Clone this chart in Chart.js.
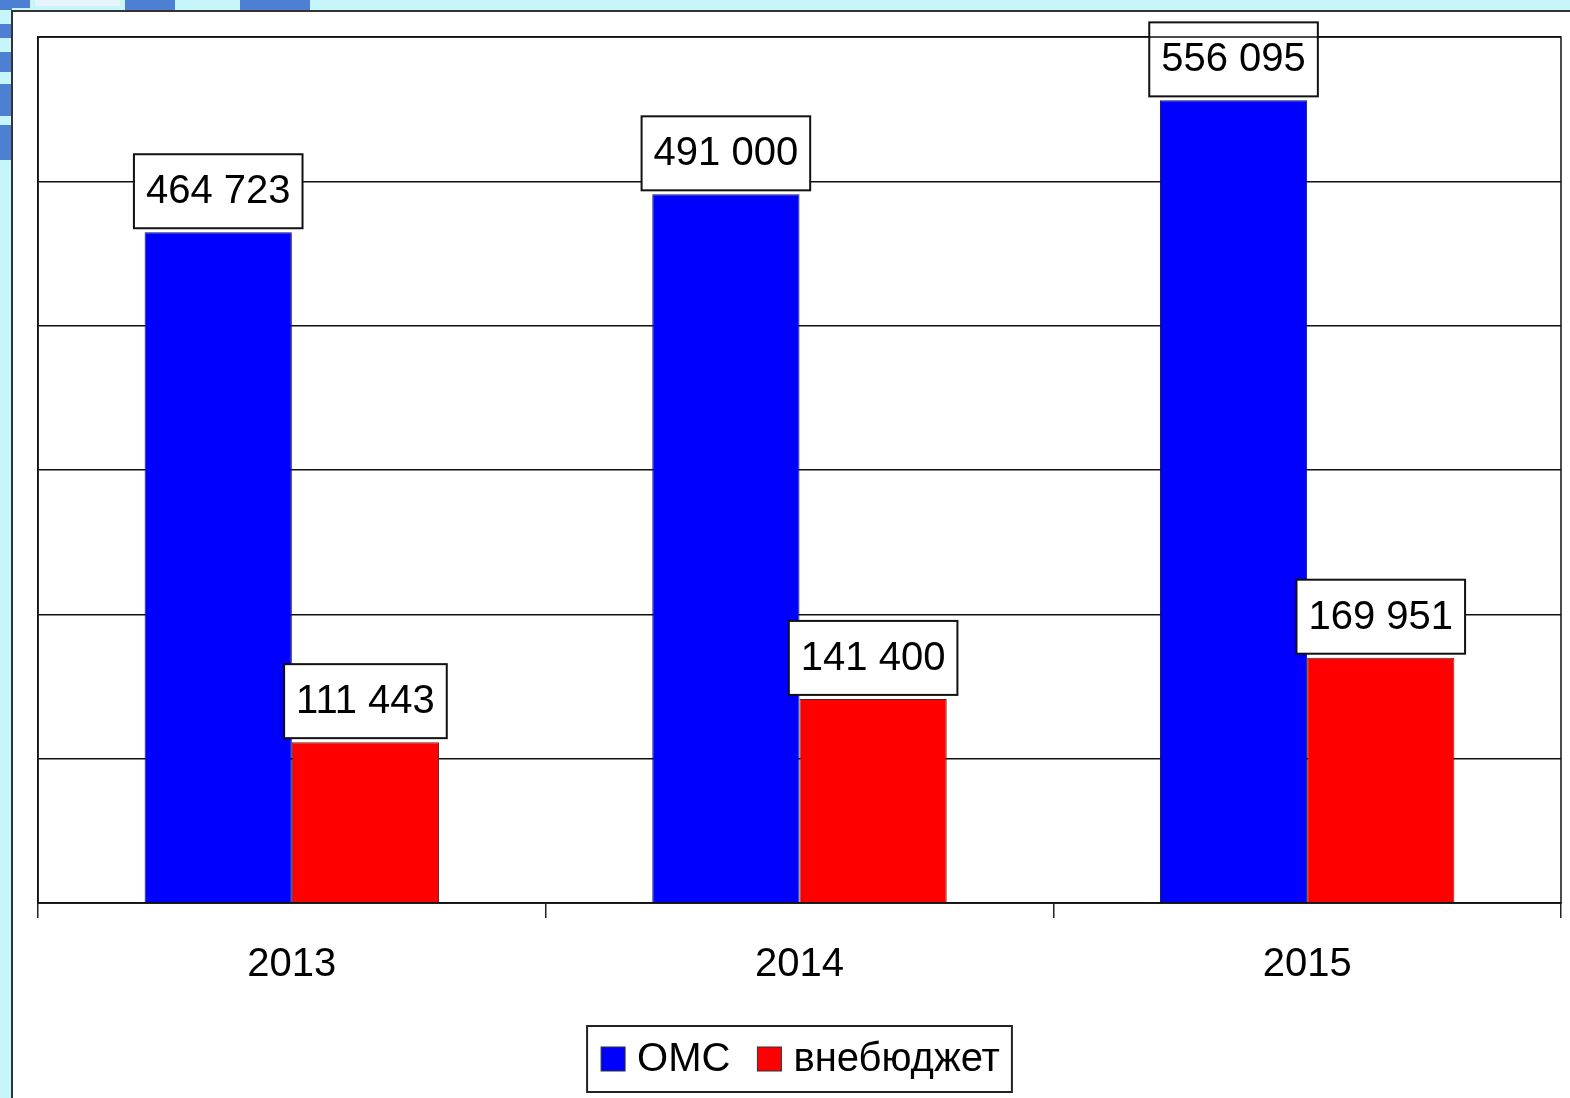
<!DOCTYPE html>
<html>
<head>
<meta charset="utf-8">
<script src="https://cdn.jsdelivr.net/npm/chart.js@4/dist/chart.umd.min.js"></script>
<style>
  html, body { margin: 0; padding: 0; background: #c6f5fa; }
  #wrap { width: 1570px; height: 1098px; position: relative; }
</style>
</head>
<body>
<div id="wrap"><canvas id="chart" width="1570" height="1098"></canvas></div>
<script>
// ==================== DATA ====================
const years = ["2013", "2014", "2015"];
const omsValues = [464723, 491000, 556095];
const extraValues = [111443, 141400, 169951];
const seriesNames = ["ОМС", "внебюджет"];
const yMax = 600000;
const yStep = 100000;

const FONT = "'Liberation Sans', Arial, sans-serif";

function fmt(n) {
  return String(n).replace(/\B(?=(\d{3})+(?!\d))/g, " ");
}

// ==================== PLUGINS ====================
const framePlugin = {
  id: "frame",
  beforeDraw(chart) {
    const c = chart.ctx;
    c.save();
    c.fillStyle = "#c6f5fa";
    c.fillRect(0, 0, chart.width, chart.height);
    // bits of the slide logo peeking out behind the chart
    c.fillStyle = "#4d80d2";
    [[0, 0, 12, 10], [0, 24, 12, 14], [0, 52, 12, 20], [0, 84, 12, 32], [0, 125, 12, 35],
     [0, 0, 30, 8], [125, 0, 50, 10], [240, 0, 70, 10]].forEach(r => c.fillRect(...r));
    c.fillStyle = "#e8f4fb";
    c.fillRect(35, 0, 85, 6);
    c.fillStyle = "#ffffff";
    c.fillRect(12, 11, chart.width, chart.height);
    c.strokeStyle = "#333";
    c.lineWidth = 2;
    c.beginPath();
    c.moveTo(12, chart.height);
    c.lineTo(12, 11);
    c.lineTo(chart.width, 11);
    c.stroke();
    c.restore();
  },
  afterDraw(chart) {
    const a = chart.chartArea;
    const c = chart.ctx;
    c.save();
    c.strokeStyle = "#111";
    c.lineWidth = 1.5;
    c.strokeRect(a.left, a.top, a.right - a.left, a.bottom - a.top);
    c.restore();
  }
};

const labelBoxes = {
  id: "labelBoxes",
  afterDatasetsDraw(chart) {
    const c = chart.ctx;
    c.save();
    c.font = `40px ${FONT}`;
    c.textAlign = "center";
    c.textBaseline = "middle";
    chart.data.datasets.forEach((ds, di) => {
      chart.getDatasetMeta(di).data.forEach((bar, i) => {
        const txt = fmt(ds.data[i]);
        const w = c.measureText(txt).width + 24;
        const h = 74;
        const x = bar.x - w / 2;
        const y = bar.y - 4 - h;
        c.fillStyle = "#fff";
        c.fillRect(x, y, w, h);
        c.strokeStyle = "#111";
        c.lineWidth = 2;
        c.strokeRect(x, y, w, h);
        c.fillStyle = "#000";
        c.fillText(txt, bar.x, y + h / 2 + 1);
      });
    });
    c.restore();
  }
};

const boxLegend = {
  id: "boxLegend",
  afterDraw(chart) {
    const c = chart.ctx;
    const a = chart.chartArea;
    c.save();
    c.font = `40px ${FONT}`;
    c.textBaseline = "middle";
    const sq = 24;
    const items = chart.data.datasets.map(ds => ({
      label: ds.label, color: ds.backgroundColor, w: c.measureText(ds.label).width
    }));
    const padL = 14, padR = 12, gapSq = 12, gapItem = 27;
    let total = padL + padR;
    items.forEach((it, i) => { total += sq + gapSq + it.w + (i < items.length - 1 ? gapItem : 0); });
    const h = 66;
    const left = (a.left + a.right) / 2 - total / 2;
    const top = 1026;
    c.fillStyle = "#fff";
    c.fillRect(left, top, total, h);
    c.strokeStyle = "#222";
    c.lineWidth = 2;
    c.strokeRect(left, top, total, h);
    let x = left + padL;
    const cy = top + h / 2;
    items.forEach(it => {
      c.fillStyle = it.color;
      c.fillRect(x, cy - sq / 2, sq, sq);
      c.strokeStyle = "#333";
      c.lineWidth = 1;
      c.strokeRect(x, cy - sq / 2, sq, sq);
      x += sq + gapSq;
      c.fillStyle = "#000";
      c.fillText(it.label, x, cy + 1);
      x += it.w + gapItem;
    });
    c.restore();
  }
};

// ==================== CHART ====================
new Chart(document.getElementById("chart"), {
  type: "bar",
  data: {
    labels: years,
    datasets: [
      {
        label: seriesNames[0],
        data: omsValues,
        backgroundColor: "#0000ff",
        borderColor: "#101060",
        borderWidth: 1,
        categoryPercentage: 0.58,
        barPercentage: 1
      },
      {
        label: seriesNames[1],
        data: extraValues,
        backgroundColor: "#ff0000",
        borderColor: "#602020",
        borderWidth: 1,
        categoryPercentage: 0.58,
        barPercentage: 1
      }
    ]
  },
  options: {
    responsive: false,
    animation: false,
    layout: { padding: { left: 38, top: 37, right: 9, bottom: 0 } },
    plugins: { legend: { display: false }, tooltip: { enabled: false } },
    scales: {
      x: {
        afterFit(scale) { scale.height = 1098 - 903; },
        grid: { drawOnChartArea: false, drawTicks: true, tickLength: 15, color: "#222", lineWidth: 1.5 },
        border: { display: true, color: "#111", width: 1.5 },
        ticks: { color: "#000", font: { family: FONT, size: 40 }, padding: 23 }
      },
      y: {
        min: 0,
        max: yMax,
        afterFit(scale) { scale.width = 0; },
        ticks: { display: false, stepSize: yStep },
        grid: { color: "#111", lineWidth: 1.5, drawTicks: false },
        border: { display: true, color: "#111", width: 1.5 }
      }
    }
  },
  plugins: [framePlugin, labelBoxes, boxLegend]
});
</script>
</body>
</html>
